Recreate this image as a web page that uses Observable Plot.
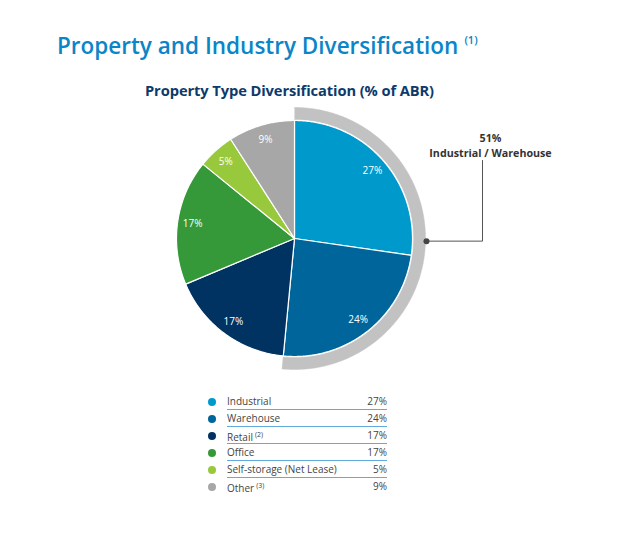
<!DOCTYPE html>
<html>
<head>
<meta charset="utf-8">
<script src="https://cdn.jsdelivr.net/npm/d3@7"></script>
<script src="https://cdn.jsdelivr.net/npm/@observablehq/plot@0.6"></script>
<style>
  body { margin: 0; background: #fff; font-family: "Open Sans", sans-serif; }
  #wrap { width: 624px; height: 539px; position: relative; overflow: hidden; }
  #title { position: absolute; left: 57px; top: 30px; font-size: 22.5px; font-weight: 600; color: #0a85c7; letter-spacing: 0px; white-space: nowrap; }
  #title sup { font-size: 11px; font-weight: 600; vertical-align: 10px; margin-left: 6px; }
  #subtitle { position: absolute; left: 145px; top: 80px; font-size: 14.7px; font-weight: 700; color: #0d3a6b; white-space: nowrap; letter-spacing: -0.1px; }
  #chart { position: absolute; left: 0; top: 105px; width: 624px; height: 275px; }
  #legend { position: absolute; left: 208px; top: 393px; width: 179px; font-size: 10px; color: #444; }
  .row { display: flex; align-items: center; height: 17px; }
  .dot { width: 8px; height: 8px; border-radius: 50%; margin-right: 11px; flex: none; }
  .cell { flex: 1; display: flex; justify-content: space-between; height: 16px; line-height: 16px; border-bottom: 1px solid #62aadb; }
  .row:last-child .cell { border-bottom: 1px solid transparent; }
  .cell sup { font-size: 7px; vertical-align: 4px; margin-left: 2px; }
</style>
</head>
<body>
<div id="wrap">
  <div id="title">Property and Industry Diversification<sup>(1)</sup></div>
  <div id="subtitle">Property Type Diversification (% of ABR)</div>
  <div id="chart"></div>
  <div id="legend"></div>
</div>
<script>
// ---- data ----
const categories = ["Industrial", "Warehouse", "Retail", "Office", "Self-storage (Net Lease)", "Other"];
const values = [27, 24, 17, 17, 5, 9];
const footnotes = ["", "", "(2)", "", "", "(3)"];
const colors = ["#0099cc", "#00659a", "#003262", "#35993a", "#98c93c", "#a7a7a7"];
const groupLabel = "Industrial / Warehouse";
const groupMembers = ["Industrial", "Warehouse"];

// ---- layout ----
const W = 624, H = 275;
const cx = 294, cy = 133, R = 118, ringIn = 119, ringOut = 131, labelR = 103;

const pie = d3.pie().sort(null).value(d => d.value).startAngle(0).endAngle(2 * Math.PI)(
  categories.map((c, i) => ({category: c, value: values[i]}))
);

const pt = (r, a) => ({x: cx + r * Math.sin(a), y: cy - r * Math.cos(a)});

// slice polygons
const slicePts = [];
for (const s of pie) {
  const n = Math.max(2, Math.ceil((s.endAngle - s.startAngle) / 0.01));
  slicePts.push({category: s.data.category, ...pt(0, 0)});
  for (let k = 0; k <= n; k++) {
    const a = s.startAngle + (s.endAngle - s.startAngle) * k / n;
    slicePts.push({category: s.data.category, ...pt(R, a)});
  }
  slicePts.push({category: s.data.category, ...pt(0, 0)});
}

// group ring
const grp = pie.filter(s => groupMembers.includes(s.data.category));
const gStart = d3.min(grp, s => s.startAngle), gEnd = d3.max(grp, s => s.endAngle);
const groupValue = d3.sum(grp, s => s.data.value);
const ringPts = [];
{
  const n = Math.ceil((gEnd - gStart) / 0.01);
  for (let k = 0; k <= n; k++) ringPts.push(pt(ringOut, gStart + (gEnd - gStart) * k / n));
  for (let k = n; k >= 0; k--) ringPts.push(pt(ringIn, gStart + (gEnd - gStart) * k / n));
}

// labels
const labels = pie.map(s => ({...pt(labelR, (s.startAngle + s.endAngle) / 2), text: s.data.value + "%"}));

// callout
const dotPos = pt(ringOut + 1, Math.PI / 2 + 0.02);
const callX = 482, callTop = 55;
const callout = [dotPos, {x: callX, y: dotPos.y}, {x: callX, y: callTop}];

const plot = Plot.plot({
  width: W, height: H,
  margin: 0,
  x: {domain: [0, W], range: [0, W], axis: null},
  y: {domain: [0, H], range: [0, H], axis: null},
  color: {domain: categories, range: colors},
  style: {fontFamily: "Open Sans, sans-serif", overflow: "visible"},
  marks: [
    Plot.line(ringPts, {x: "x", y: "y", fill: "#c2c2c2", stroke: "#c2c2c2", strokeWidth: 0.5}),
    Plot.line(slicePts, {x: "x", y: "y", z: "category", fill: "category", stroke: "white", strokeWidth: 1.2, strokeLinejoin: "round"}),
    Plot.text(labels, {x: "x", y: "y", text: "text", fill: "white", fontSize: 10}),
    Plot.line(callout, {x: "x", y: "y", stroke: "#555", strokeWidth: 1}),
    Plot.dot([dotPos], {x: "x", y: "y", r: 3, fill: "#444"}),
    Plot.text([groupValue + "%"], {x: callX + 8, y: 33, text: d => d, fontSize: 10.7, fontWeight: 700, fill: "#333"}),
    Plot.text([groupLabel], {x: callX + 8, y: 48, text: d => d, fontSize: 10.7, fontWeight: 700, fill: "#333"})
  ]
});
document.getElementById("chart").appendChild(plot);

// legend
const leg = document.getElementById("legend");
categories.forEach((c, i) => {
  const row = document.createElement("div");
  row.className = "row";
  row.innerHTML = `<span class="dot" style="background:${colors[i]}"></span><span class="cell"><span>${c}${footnotes[i] ? `<sup>${footnotes[i]}</sup>` : ""}</span><span>${values[i]}%</span></span>`;
  leg.appendChild(row);
});
</script>
</body>
</html>
